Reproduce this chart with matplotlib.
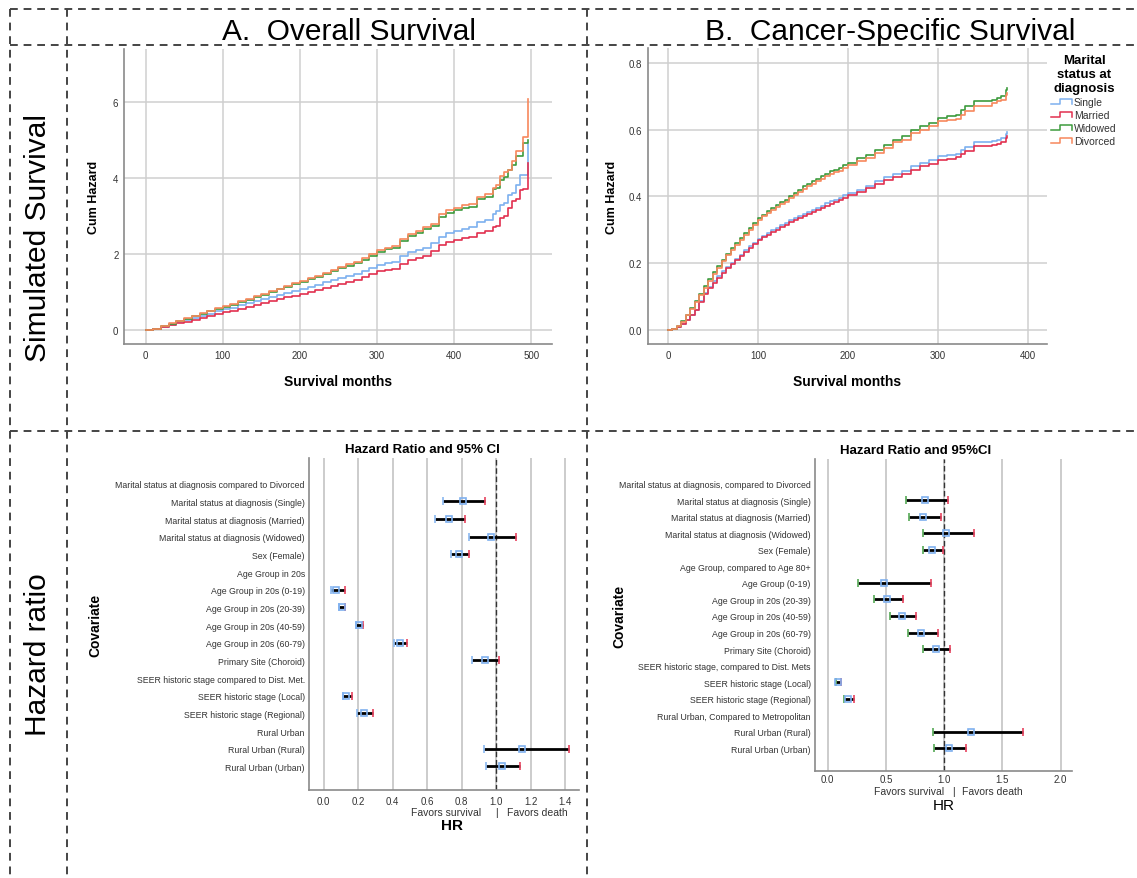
import numpy as np
import matplotlib
matplotlib.use("Agg")
import matplotlib.pyplot as plt
from matplotlib.lines import Line2D
from matplotlib.legend_handler import HandlerBase

plt.rcParams['font.family'] = ['Liberation Sans', 'DejaVu Sans']

W, H = 1137, 879

# ---------------- data: overall survival (cumulative hazard) ----------------
os_months = [0, 10, 20, 30, 40, 50, 60, 70, 80, 90, 100, 110, 120, 130, 140, 150, 160, 170,
             180, 190, 200, 210, 220, 230, 240, 250, 260, 270, 280, 290, 300,
             310, 320, 330, 340, 350, 360, 370, 380, 390, 400, 410, 420, 430, 440, 450, 455,
             460, 465, 470, 475, 480, 485, 490, 496]
os_single = [0, 0.025, 0.08, 0.14, 0.2, 0.26, 0.31, 0.37, 0.43, 0.49, 0.54, 0.59, 0.65, 0.7,
             0.76, 0.82, 0.87, 0.92, 0.97, 1.02, 1.07, 1.12, 1.19, 1.25, 1.32, 1.37, 1.42, 1.47,
             1.55, 1.64, 1.72,
             1.76, 1.78, 1.95, 2.05, 2.1, 2.15, 2.28, 2.45, 2.55, 2.6, 2.65, 2.7, 2.85, 2.9,
             3.05, 3.12, 3.3, 3.35, 3.55, 3.6, 3.82, 4.08, 4.08, 4.9]
os_married = [0, 0.02, 0.07, 0.12, 0.17, 0.22, 0.27, 0.32, 0.37, 0.42, 0.47, 0.51, 0.56, 0.61,
              0.66, 0.71, 0.76, 0.81, 0.86, 0.9, 0.95, 1.0, 1.06, 1.11, 1.17, 1.22, 1.27, 1.32,
              1.4, 1.48, 1.55,
              1.58, 1.6, 1.75, 1.85, 1.9, 1.95, 2.07, 2.25, 2.32, 2.36, 2.42, 2.45, 2.55, 2.6,
              2.7, 2.75, 2.95, 3.0, 3.2, 3.4, 3.45, 3.68, 3.7, 4.4]
os_widowed = [0, 0.03, 0.1, 0.16, 0.23, 0.3, 0.37, 0.43, 0.49, 0.55, 0.61, 0.67, 0.74, 0.8,
              0.87, 0.93, 1.0, 1.07, 1.14, 1.21, 1.27, 1.33, 1.4, 1.48, 1.55, 1.62, 1.69, 1.76,
              1.85, 1.95, 2.05,
              2.12, 2.17, 2.35, 2.47, 2.55, 2.65, 2.75, 2.98, 3.08, 3.15, 3.2, 3.25, 3.45, 3.5,
              3.7, 3.75, 3.95, 4.03, 4.2, 4.35, 4.58, 4.58, 4.93, 5.0]
os_divorced = [0, 0.03, 0.1, 0.17, 0.24, 0.31, 0.38, 0.44, 0.5, 0.57, 0.63, 0.69, 0.76, 0.82,
               0.89, 0.95, 1.02, 1.09, 1.17, 1.24, 1.3, 1.36, 1.43, 1.51, 1.58, 1.66, 1.73, 1.8,
               1.9, 2.0, 2.1,
               2.17, 2.22, 2.4, 2.52, 2.6, 2.7, 2.8, 3.05, 3.15, 3.22, 3.3, 3.33, 3.5, 3.57,
               3.75, 3.82, 4.05, 4.15, 4.2, 4.45, 4.72, 4.72, 5.08, 6.07]

# ---------------- data: cancer-specific survival ----------------
css_months = [0, 5, 10, 15, 20, 25, 30, 35, 40, 45, 50, 55, 60, 65, 70, 75, 80, 85, 90, 95, 100,
              105, 110, 115, 120, 125, 130, 135, 140, 145, 150, 155, 160, 165, 170, 175, 180,
              185, 190, 195, 200,
              210, 220, 230, 240, 250, 260, 270, 280, 290, 300,
              310, 320, 325, 330, 340, 350, 360, 365, 370, 375, 377]
css_single = [0, 0.002, 0.008, 0.018, 0.03, 0.045, 0.06, 0.085, 0.11, 0.128, 0.145, 0.16, 0.175,
              0.188, 0.2, 0.213, 0.225, 0.238, 0.25, 0.261, 0.272,
              0.282, 0.29, 0.298, 0.305, 0.313, 0.32, 0.328, 0.335, 0.342, 0.348, 0.354, 0.36,
              0.366, 0.372, 0.379, 0.385, 0.39, 0.395, 0.403, 0.41,
              0.42, 0.432, 0.445, 0.457, 0.467, 0.475, 0.49, 0.5, 0.508, 0.52,
              0.523, 0.527, 0.54, 0.548, 0.562, 0.562, 0.565, 0.57, 0.575, 0.588, 0.592]
css_married = [0, 0.002, 0.008, 0.017, 0.029, 0.043, 0.058, 0.082, 0.107, 0.125, 0.141, 0.156,
               0.171, 0.184, 0.196, 0.209, 0.221, 0.234, 0.246, 0.257, 0.268,
               0.277, 0.285, 0.293, 0.3, 0.308, 0.315, 0.323, 0.33, 0.336, 0.342, 0.348, 0.354,
               0.36, 0.366, 0.372, 0.378, 0.383, 0.389, 0.396, 0.403,
               0.413, 0.425, 0.437, 0.449, 0.459, 0.467, 0.48, 0.49, 0.498, 0.51,
               0.513, 0.517, 0.528, 0.537, 0.55, 0.55, 0.553, 0.558, 0.563, 0.575, 0.582]
css_widowed = [0, 0.003, 0.012, 0.025, 0.045, 0.065, 0.085, 0.108, 0.13, 0.152, 0.172, 0.19,
               0.21, 0.228, 0.245, 0.26, 0.275, 0.29, 0.305, 0.32, 0.335,
               0.345, 0.355, 0.365, 0.375, 0.382, 0.39, 0.4, 0.41, 0.42, 0.43, 0.437, 0.445,
               0.452, 0.46, 0.468, 0.475, 0.48, 0.485, 0.493, 0.5,
               0.515, 0.525, 0.54, 0.555, 0.57, 0.58, 0.6, 0.61, 0.62, 0.635,
               0.64, 0.645, 0.66, 0.67, 0.685, 0.685, 0.69, 0.695, 0.7, 0.72, 0.725]
css_divorced = [0, 0.003, 0.012, 0.024, 0.043, 0.062, 0.082, 0.104, 0.126, 0.147, 0.166, 0.185,
                0.205, 0.223, 0.24, 0.255, 0.27, 0.285, 0.3, 0.315, 0.33,
                0.34, 0.35, 0.359, 0.368, 0.376, 0.384, 0.394, 0.403, 0.412, 0.422, 0.43, 0.438,
                0.445, 0.452, 0.46, 0.467, 0.472, 0.477, 0.485, 0.493,
                0.505, 0.515, 0.53, 0.545, 0.563, 0.57, 0.59, 0.6, 0.61, 0.625,
                0.628, 0.632, 0.645, 0.655, 0.672, 0.672, 0.68, 0.685, 0.69, 0.705, 0.71]

groups = ["Single", "Married", "Widowed", "Divorced"]
group_colors = ["#7db0ef", "#e2304f", "#3d9b3d", "#f7885c"]

# ---------------- data: hazard ratios ----------------
os_labels = ["Marital status at diagnosis compared to Divorced",
             "Marital status at diagnosis (Single)",
             "Marital status at diagnosis (Married)",
             "Marital status at diagnosis (Widowed)",
             "Sex (Female)",
             "Age Group in 20s",
             "Age Group in 20s (0-19)",
             "Age Group in 20s (20-39)",
             "Age Group in 20s (40-59)",
             "Age Group in 20s (60-79)",
             "Primary Site (Choroid)",
             "SEER historic stage compared to Dist. Met.",
             "SEER historic stage (Local)",
             "SEER historic stage (Regional)",
             "Rural Urban",
             "Rural Urban (Rural)",
             "Rural Urban (Urban)"]
nan = np.nan
os_hr = [nan, 0.807, 0.724, 0.969, 0.786, nan, 0.070, 0.104, 0.203, 0.442, 0.933, nan, 0.131, 0.236, nan, 1.149, 1.031]
os_lo = [nan, 0.691, 0.645, 0.844, 0.740, nan, 0.042, 0.089, 0.185, 0.405, 0.859, nan, 0.112, 0.193, nan, 0.931, 0.942]
os_hi = [nan, 0.933, 0.819, 1.112, 0.840, nan, 0.126, 0.124, 0.228, 0.485, 1.014, nan, 0.162, 0.288, nan, 1.421, 1.137]

css_labels = ["Marital status at diagnosis, compared to Divorced",
              "Marital status at diagnosis (Single)",
              "Marital status at diagnosis (Married)",
              "Marital status at diagnosis (Widowed)",
              "Sex (Female)",
              "Age Group, compared to Age 80+",
              "Age Group (0-19)",
              "Age Group in 20s (20-39)",
              "Age Group in 20s (40-59)",
              "Age Group in 20s (60-79)",
              "Primary Site (Choroid)",
              "SEER historic stage, compared to Dist. Mets",
              "SEER historic stage (Local)",
              "SEER historic stage (Regional)",
              "Rural Urban, Compared to Metropolitan",
              "Rural Urban (Rural)",
              "Rural Urban (Urban)"]
css_hr = [nan, 0.832, 0.821, 1.016, 0.895, nan, 0.485, 0.508, 0.637, 0.803, 0.927, nan, 0.092, 0.178, nan, 1.234, 1.039]
css_lo = [nan, 0.671, 0.694, 0.821, 0.815, nan, 0.264, 0.399, 0.537, 0.686, 0.821, nan, 0.075, 0.141, nan, 0.907, 0.910]
css_hi = [nan, 1.030, 0.976, 1.254, 0.987, nan, 0.887, 0.643, 0.760, 0.950, 1.050, nan, 0.115, 0.230, nan, 1.679, 1.188]


def box(left, top, right, bottom):
    return [left / W, 1 - bottom / H, (right - left) / W, (bottom - top) / H]


def style_axes(ax):
    for s in ["top", "right"]:
        ax.spines[s].set_visible(False)
    for s in ["left", "bottom"]:
        ax.spines[s].set_color("#8a8a8a")
        ax.spines[s].set_linewidth(1.2)
    ax.tick_params(length=0, labelsize=7, labelcolor="#333333", pad=4)
    ax.set_axisbelow(True)


class StepHandler(HandlerBase):
    def create_artists(self, legend, orig_handle, xdescent, ydescent, width, height, fontsize, trans):
        x0, y0 = -xdescent, -ydescent
        xs = [x0, x0 + width * 0.4, x0 + width * 0.4, x0 + width, x0 + width]
        ys = [y0 + height * 0.15, y0 + height * 0.15, y0 + height * 0.85, y0 + height * 0.85, y0 + height * 0.15]
        ln = Line2D(xs, ys, color=orig_handle.get_color(), lw=1.1)
        ln.set_transform(trans)
        return [ln]


fig = plt.figure(figsize=(W / 100, H / 100), dpi=100)

# dashed frame of the panel grid
dash = dict(color="#444444", lw=1.4, ls=(0, (4, 3)))
for (x0, y0, x1, y1) in [(10, 10, W, 10), (10, 46, W, 46), (10, 432, W, 432),
                         (10, 10, 10, H), (67, 10, 67, H), (587, 10, 587, H)]:
    fig.add_artist(Line2D([x0 / W, x1 / W], [1 - y0 / H, 1 - y1 / H], transform=fig.transFigure, **dash))

fig.text(349 / W, 1 - 40 / H, "A.  Overall Survival", ha="center", va="baseline", fontsize=21.5)
fig.text(890 / W, 1 - 40 / H, "B.  Cancer-Specific Survival", ha="center", va="baseline", fontsize=21.5)
fig.text(38 / W, 1 - 238 / H, "Simulated Survival", ha="center", va="center", rotation=90, fontsize=21.5)
fig.text(38 / W, 1 - 655 / H, "Hazard ratio", ha="center", va="center", rotation=90, fontsize=21.5)

# ---------------- panel A ----------------
axA = fig.add_axes(box(124, 50, 552, 345))
style_axes(axA)
for vals, c in zip([os_single, os_married, os_widowed, os_divorced], group_colors):
    axA.step(os_months, vals, where="post", color=c, lw=1.2)
axA.set_xlim(-28, 527)
axA.set_ylim(-0.37, 7.4)
axA.set_xticks([0, 100, 200, 300, 400, 500])
axA.set_yticks([0, 2, 4, 6])
axA.grid(True, color="#cfcfcf", lw=1.1)
axA.set_xlabel("Survival months", fontsize=10, fontweight="bold")
axA.set_ylabel("Cum Hazard", fontsize=9, fontweight="bold")
axA.xaxis.set_label_coords(0.5, -0.10)
axA.yaxis.set_label_coords(-0.056, 0.5)

# ---------------- panel B ----------------
axB = fig.add_axes(box(648, 49, 1047, 345))
style_axes(axB)
lines = []
for vals, c, g in zip([css_single, css_married, css_widowed, css_divorced], group_colors, groups):
    ln, = axB.step(css_months, vals, where="post", color=c, lw=1.2, label=g)
    lines.append(ln)
axB.set_xlim(-22, 421)
axB.set_ylim(-0.043, 0.845)
axB.set_xticks([0, 100, 200, 300, 400])
axB.set_yticks([0.0, 0.2, 0.4, 0.6, 0.8])
axB.set_yticklabels(["0.0", "0.2", "0.4", "0.6", "0.8"])
axB.grid(True, color="#cfcfcf", lw=1.1)
axB.set_xlabel("Survival months", fontsize=10, fontweight="bold")
axB.set_ylabel("Cum Hazard", fontsize=9, fontweight="bold")
axB.xaxis.set_label_coords(0.5, -0.10)
axB.yaxis.set_label_coords(-0.075, 0.5)

leg = fig.legend(handles=lines, labels=groups, handler_map={Line2D: StepHandler()},
                 loc="upper center", bbox_to_anchor=(1084 / W, 1 - 48 / H),
                 title="Marital\nstatus at\ndiagnosis", frameon=False, fontsize=7.5,
                 title_fontproperties={"weight": "bold", "size": 9.5},
                 handlelength=2.0, handletextpad=0.15, labelspacing=0.3, borderpad=0.2)
leg.get_title().set_multialignment("center")
for t in leg.get_texts():
    t.set_color("#333333")


# ---------------- forest plots ----------------
def forest(ax, labels, hr, lo, hi, low_cap, xlim, xticks, top_pad, bot_pad):
    style_axes(ax)
    rows = np.arange(len(labels))
    hr, lo, hi = np.array(hr), np.array(lo), np.array(hi)
    ok = ~np.isnan(hr)
    ax.xaxis.grid(True, color="#c8c8c8", lw=1.3)
    ax.axvline(1.0, color="#333333", ls=(0, (4, 2)), lw=1.0, zorder=2)
    ax.hlines(rows[ok], lo[ok], hi[ok], color="black", lw=2.0, zorder=3)
    ax.plot(lo[ok], rows[ok], ls="none", marker="|", ms=6, mew=1.2, color=low_cap, zorder=4)
    ax.plot(hi[ok], rows[ok], ls="none", marker="|", ms=6, mew=1.2, color="#e8435f", zorder=4)
    ax.plot(hr[ok], rows[ok], ls="none", marker="s", ms=5, mew=1.2, mfc="none", mec="#7fb0ef", zorder=5)
    ax.set_yticks(rows)
    ax.set_yticklabels(labels, fontsize=6.3, color="#333333")
    ax.set_ylim(len(labels) - 1 + bot_pad, -top_pad)
    ax.set_xlim(*xlim)
    ax.set_xticks(xticks)
    ax.set_xticklabels(["%.1f" % v for v in xticks])
    ax.tick_params(axis="y", pad=3)


axC = fig.add_axes(box(309, 459, 579, 791))
forest(axC, os_labels, os_hr, os_lo, os_hi, "#8ab8f0", (-0.085, 1.479),
       [0.0, 0.2, 0.4, 0.6, 0.8, 1.0, 1.2, 1.4], 1.46, 1.34)
axC.set_title("Hazard Ratio and 95% CI", fontsize=9.5, fontweight="bold", x=0.42, y=1.0, pad=4)
tC = axC.get_xaxis_transform()
axC.text(0.71, -0.066, "Favors survival", transform=tC, ha="center", va="center", fontsize=7.5, color="#333333")
axC.text(1.0, -0.066, "|", transform=tC, ha="center", va="center", fontsize=7.5, color="#333333")
axC.text(1.24, -0.066, "Favors death", transform=tC, ha="center", va="center", fontsize=7.5, color="#333333")
axC.text(0.745, -0.105, "HR", transform=tC, ha="center", va="center", fontsize=11, fontweight="bold")
axC.text(-0.79, 0.5, "Covariate", transform=axC.transAxes, rotation=90, ha="center", va="center",
         fontsize=10, fontweight="bold")

axD = fig.add_axes(box(815, 460, 1072, 772))
forest(axD, css_labels, css_hr, css_lo, css_hi, "#55a955", (-0.109, 2.098),
       [0.0, 0.5, 1.0, 1.5, 2.0], 1.49, 1.37)
axD.tick_params(axis="x", pad=2)
axD.set_title("Hazard Ratio and 95%CI", fontsize=9.5, fontweight="bold", x=0.39, y=1.0, pad=4)
tD = axD.get_xaxis_transform()
axD.text(0.697, -0.064, "Favors survival", transform=tD, ha="center", va="center", fontsize=7.5, color="#333333")
axD.text(1.079, -0.064, "|", transform=tD, ha="center", va="center", fontsize=7.5, color="#333333")
axD.text(1.415, -0.064, "Favors death", transform=tD, ha="center", va="center", fontsize=7.5, color="#333333")
axD.text(0.999, -0.108, "HR", transform=tD, ha="center", va="center", fontsize=11)
axD.text(-0.763, 0.497, "Covariate", transform=axD.transAxes, rotation=90, ha="center", va="center",
         fontsize=10, fontweight="bold")

fig.savefig("out.png", dpi=100)
